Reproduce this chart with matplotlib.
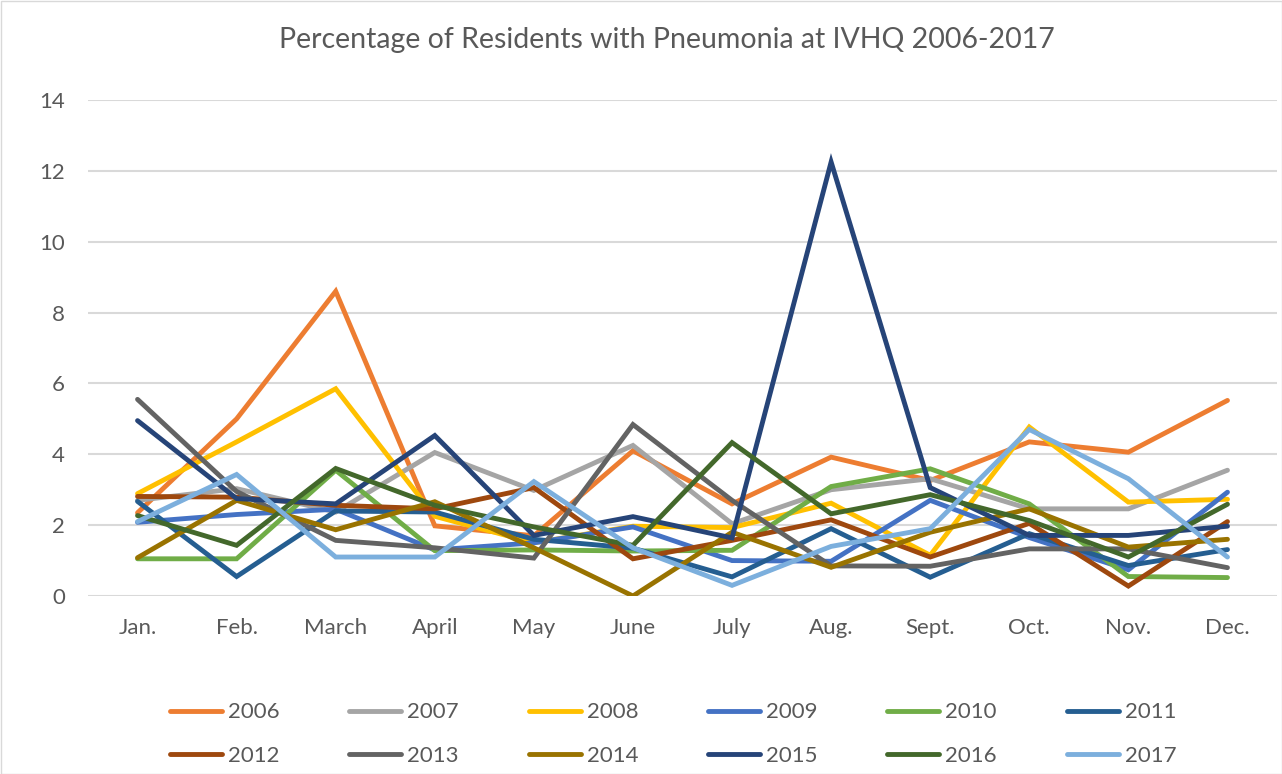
import matplotlib
matplotlib.use("Agg")
import matplotlib.pyplot as plt
from matplotlib.patches import Rectangle

plt.rcParams['font.family'] = ['Lato', 'DejaVu Sans']

months = ["Jan.", "Feb.", "March", "April", "May", "June", "July", "Aug.", "Sept.", "Oct.", "Nov.", "Dec."]
years = ["2006", "2007", "2008", "2009", "2010", "2011", "2012", "2013", "2014", "2015", "2016", "2017"]

v2006 = [2.35, 5.0, 8.6, 1.98, 1.7, 4.1, 2.6, 3.92, 3.26, 4.35, 4.06, 5.52]
v2007 = [2.7, 3.03, 2.37, 4.05, 2.98, 4.25, 2.04, 3.0, 3.31, 2.46, 2.46, 3.55]
v2008 = [2.89, 4.35, 5.85, 2.25, 1.5, 1.97, 1.93, 2.62, 1.15, 4.77, 2.65, 2.73]
v2009 = [2.08, 2.3, 2.45, 1.3, 1.5, 1.95, 1.0, 0.98, 2.7, 1.65, 0.74, 2.93]
v2010 = [1.05, 1.05, 3.55, 1.28, 1.3, 1.27, 1.29, 3.09, 3.59, 2.6, 0.55, 0.52]
v2011 = [2.67, 0.55, 2.4, 2.37, 1.6, 1.35, 0.54, 1.9, 0.53, 1.76, 0.86, 1.31]
v2012 = [2.81, 2.79, 2.56, 2.46, 3.06, 1.05, 1.57, 2.15, 1.1, 2.05, 0.28, 2.1]
v2013 = [5.55, 2.95, 1.57, 1.36, 1.07, 4.84, 2.7, 0.85, 0.84, 1.33, 1.33, 0.8]
v2014 = [1.08, 2.7, 1.87, 2.66, 1.36, 0.0, 1.8, 0.81, 1.8, 2.46, 1.38, 1.6]
v2015 = [4.95, 2.75, 2.6, 4.53, 1.71, 2.24, 1.64, 12.25, 3.06, 1.71, 1.71, 1.97]
v2016 = [2.27, 1.43, 3.6, 2.56, 1.95, 1.43, 4.33, 2.32, 2.86, 2.13, 1.1, 2.59]
v2017 = [2.1, 3.43, 1.1, 1.1, 3.23, 1.36, 0.3, 1.4, 1.9, 4.7, 3.31, 1.1]

series = [v2006, v2007, v2008, v2009, v2010, v2011, v2012, v2013, v2014, v2015, v2016, v2017]
colors = ["#ED7D31", "#A5A5A5", "#FFC000", "#4472C4", "#70AD47", "#255E91",
          "#9E480E", "#636363", "#997300", "#264478", "#43682B", "#7CAFDD"]

fig = plt.figure(figsize=(12.82, 7.74), dpi=100)
fig.patch.set_facecolor("white")
ax = fig.add_axes([88/1282, 1 - 596/774, 1189/1282, 496/774])

x = list(range(len(months)))
handles = []
for vals, col, yr in zip(series, colors, years):
    h, = ax.plot(x, vals, color=col, lw=3.5, label=yr, solid_joinstyle="miter",
                 solid_capstyle="round")
    handles.append(h)

ax.set_xlim(-0.5, 11.5)
ax.set_ylim(0, 14)
ax.set_yticks(range(0, 15, 2))
ax.set_xticks(x)
ax.set_xticklabels(months)
ax.grid(axis="y", color="#D9D9D9", lw=1.5)
ax.set_axisbelow(True)
for s in ax.spines.values():
    s.set_visible(False)
ax.tick_params(axis="both", length=0, labelsize=16, labelcolor="#595959")
ax.tick_params(axis="x", pad=16)
ax.tick_params(axis="y", pad=16.5)

fig.text(667/1282, 1 - 40/774, "Percentage of Residents with Pneumonia at IVHQ 2006-2017",
         ha="center", va="center", fontsize=20.5, color="#595959")

# legend in row-major order with 6 columns
order = [0, 6, 1, 7, 2, 8, 3, 9, 4, 10, 5, 11]
leg = fig.legend([handles[i] for i in order], [years[i] for i in order],
                 ncol=6, loc="center", bbox_to_anchor=(673/1282, 1 - 734/774),
                 frameon=False, fontsize=16, handlelength=2.34, handletextpad=0.27,
                 columnspacing=3.14, labelspacing=1.05)
for t in leg.get_texts():
    t.set_color("#595959")
for l in leg.get_lines():
    l.set_linewidth(3.5)

fig.patches.append(Rectangle((0.5/1282, 0.5/774), 1 - 1/1282, 1 - 1/774,
                             transform=fig.transFigure, fill=False,
                             edgecolor="#D9D9D9", lw=1))

fig.savefig("out.png", dpi=100, facecolor="white")
